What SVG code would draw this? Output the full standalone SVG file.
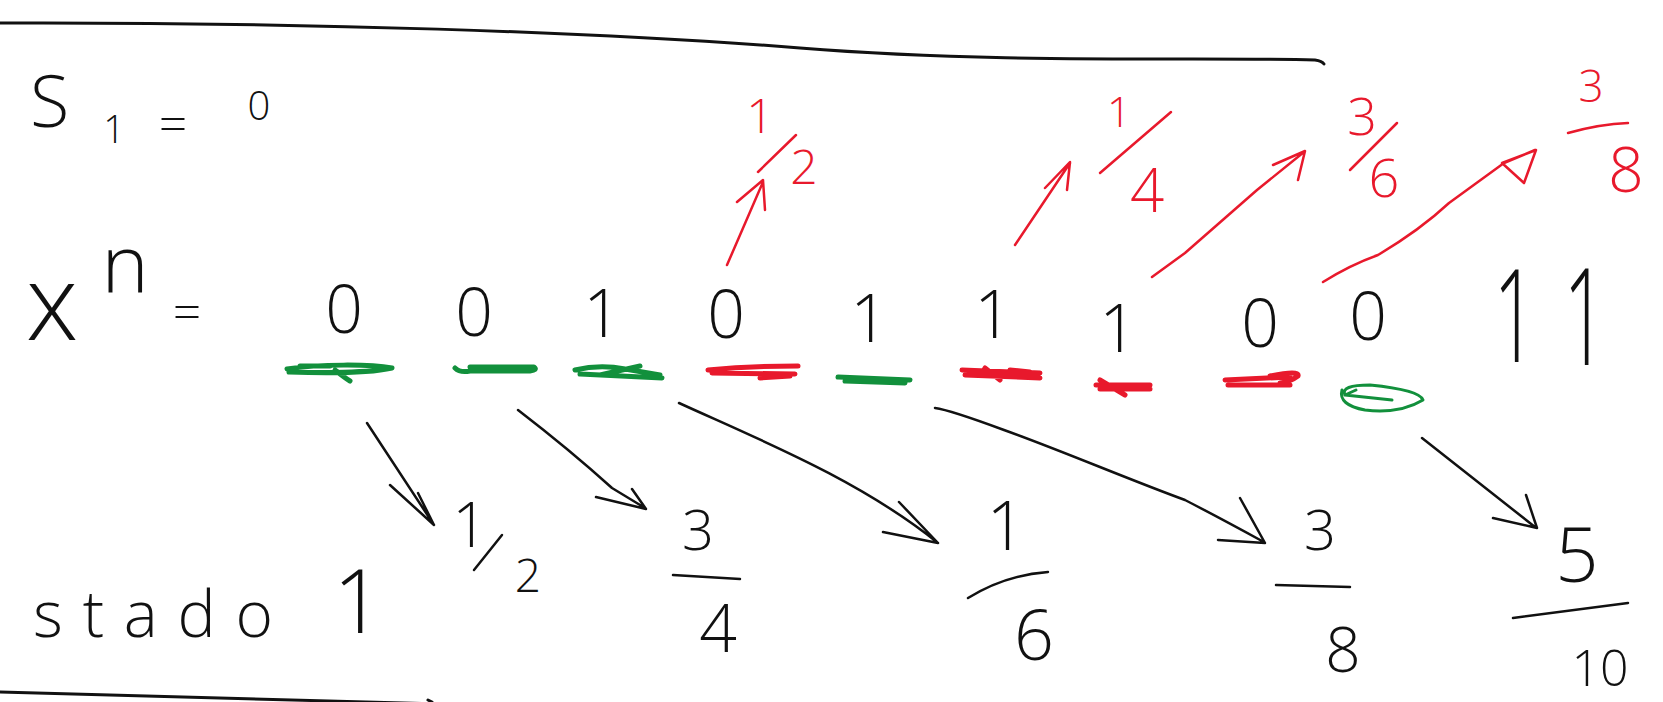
<svg xmlns="http://www.w3.org/2000/svg" width="1663" height="702" viewBox="0 0 1663 702">
<style>
.t{font-family:"Open Sans","Lato","DejaVu Sans",sans-serif;font-weight:300;fill:#111}
.r{fill:#e8192c}
.m{text-anchor:middle}
.ink{fill:none;stroke:#111;stroke-width:2.5;stroke-linecap:round;stroke-linejoin:round}
.red{fill:none;stroke:#e8192c;stroke-width:2.5;stroke-linecap:round;stroke-linejoin:round}
.gm{fill:none;stroke:#12903c;stroke-width:5;stroke-linecap:round;stroke-linejoin:round}
.rm{fill:none;stroke:#e8192c;stroke-width:5;stroke-linecap:round;stroke-linejoin:round}
</style>
<rect width="1663" height="702" fill="#fff"/>
<g id="frame">
<path class="ink" style="stroke-width:3" d="M0,23 C300,22 600,32 800,48 S1200,57 1315,60 Q1322,61 1324,64"/>
<path class="ink" style="stroke-width:3" d="M0,692 L440,704 M428,700 L432,702"/>
</g>
<g id="s1">
<text class="t" x="30" y="127" font-size="72">S</text>
<text class="t m" x="114" y="143" font-size="38">1</text>
<text class="t m" x="173" y="142" font-size="50">=</text>
<text class="t m" x="259" y="120" font-size="40">0</text>
</g>
<g id="xn">
<text class="t m" x="52" y="340" font-size="105">x</text>
<text class="t m" x="125" y="293" font-size="80">n</text>
<text class="t m" x="187" y="330" font-size="50">=</text>
</g>
<g id="bits" class="t m" font-size="66">
<text x="344" y="333">0</text>
<text x="474" y="336">0</text>
<text x="602" y="337">1</text>
<text x="726" y="338">0</text>
<text x="869" y="342">1</text>
<text x="993" y="338">1</text>
<text x="1118" y="352">1</text>
<text x="1260" y="347">0</text>
<text x="1368" y="340">0</text>
<text transform="translate(1515,362) scale(0.75,1.3)" font-size="100">1</text>
<text transform="translate(1585,365) scale(0.75,1.35)" font-size="100">1</text>
</g>
<g id="marks">
<path class="gm" d="M287,369 C320,364 370,364 392,368 C370,373 320,373 289,372 M300,366 L330,366 M335,370 Q345,378 350,381"/>
<path class="gm" d="M455,368 Q460,373 470,371 L530,371 Q538,370 534,367 L470,367"/>
<path class="gm" d="M575,370 Q600,364 625,369 L660,375 M580,374 L662,378 M600,375 L640,366"/>
<path class="rm" d="M708,370 Q750,366 798,366 M712,373 L795,374 M760,378 L790,376"/>
<path class="gm" d="M838,377 L910,380 M845,381 L905,383"/>
<path class="rm" d="M962,370 L1040,373 M965,375 L1040,378 M985,368 L1000,380 M1010,370 L1030,372"/>
<path class="rm" d="M1096,385 L1150,385 M1100,389 L1150,389 M1100,380 L1125,395"/>
<path class="rm" d="M1225,380 L1290,377 M1228,385 L1290,385 M1270,376 Q1300,370 1298,376 Q1290,382 1280,383"/>
<path class="gm" style="stroke-width:3" d="M1345,395 Q1340,385 1370,385 Q1420,390 1423,400 Q1400,414 1365,410 Q1338,405 1342,390 M1345,395 L1356,390 M1345,395 L1392,400"/>
</g>
<g id="connectors">
<path class="ink" d="M367,423 L434,525 M390,485 L434,525 L418,493"/>
<path class="ink" d="M518,410 Q570,450 612,488 L645,508 M596,497 L646,509 L632,489"/>
<path class="ink" d="M679,403 C760,440 860,480 938,543 M883,532 L938,543 L899,502"/>
<path class="ink" d="M935,408 Q950,410 1004,430 C1060,450 1130,480 1185,500 Q1220,518 1262,541 M1218,540 L1265,543 L1240,498"/>
<path class="ink" d="M1422,438 L1535,527 M1493,518 L1537,528 L1526,495"/>
<path class="red" d="M727,265 L763,182 M737,202 L763,180 L765,210"/>
<path class="red" d="M1015,245 L1070,163 M1045,188 L1070,162 L1067,190"/>
<path class="red" d="M1152,277 L1185,253 L1257,190 L1304,152 M1273,165 L1305,151 L1298,180"/>
<path class="red" d="M1323,282 Q1350,265 1378,255 Q1420,230 1449,203 L1504,163 L1535,150 M1502,163 L1536,150 L1524,183 Z"/>
</g>
<g id="r12">
<text class="t r m" x="760" y="133" font-size="48">1</text>
<path class="red" d="M796,135 L758,172"/>
<text class="t r m" x="804" y="184" font-size="48">2</text>
</g>
<g id="r14">
<text class="t r m" x="1119" y="127" font-size="42">1</text>
<path class="red" d="M1171,112 L1100,173"/>
<text class="t r m" x="1147" y="212" font-size="60">4</text>
</g>
<g id="r36">
<text class="t r m" x="1362" y="135" font-size="52">3</text>
<path class="red" d="M1397,123 L1350,170"/>
<text class="t r m" x="1384" y="197" font-size="54">6</text>
</g>
<g id="r38">
<text class="t r m" x="1591" y="102" font-size="44">3</text>
<path class="red" d="M1568,133 Q1600,124 1628,123"/>
<text class="t r m" x="1626" y="192" font-size="62">8</text>
</g>
<g id="b12">
<text class="t m" x="470" y="547" font-size="62">1</text>
<path class="ink" d="M502,535 L474,570"/>
<text class="t m" x="528" y="592" font-size="46">2</text>
</g>
<g id="b34">
<text class="t m" x="698" y="550" font-size="56">3</text>
<path class="ink" d="M673,575 L740,579"/>
<text class="t m" x="718" y="652" font-size="66">4</text>
</g>
<g id="b16">
<text class="t m" x="1006" y="550" font-size="68">1</text>
<path class="ink" d="M968,598 Q1005,575 1048,572"/>
<text class="t m" x="1034" y="660" font-size="70">6</text>
</g>
<g id="b38">
<text class="t m" x="1320" y="550" font-size="56">3</text>
<path class="ink" d="M1276,585 L1350,587"/>
<text class="t m" x="1343" y="672" font-size="62">8</text>
</g>
<g id="b510">
<text class="t m" x="1577" y="582" font-size="76">5</text>
<path class="ink" d="M1513,618 L1628,603"/>
<text class="t m" x="1600" y="686" font-size="50">10</text>
</g>
<g id="stado">
<text class="t" x="33" y="637" font-size="64" textLength="240" lengthAdjust="spacing">stado</text>
<text class="t m" x="358" y="633" font-size="88">1</text>
</g>
</svg>
